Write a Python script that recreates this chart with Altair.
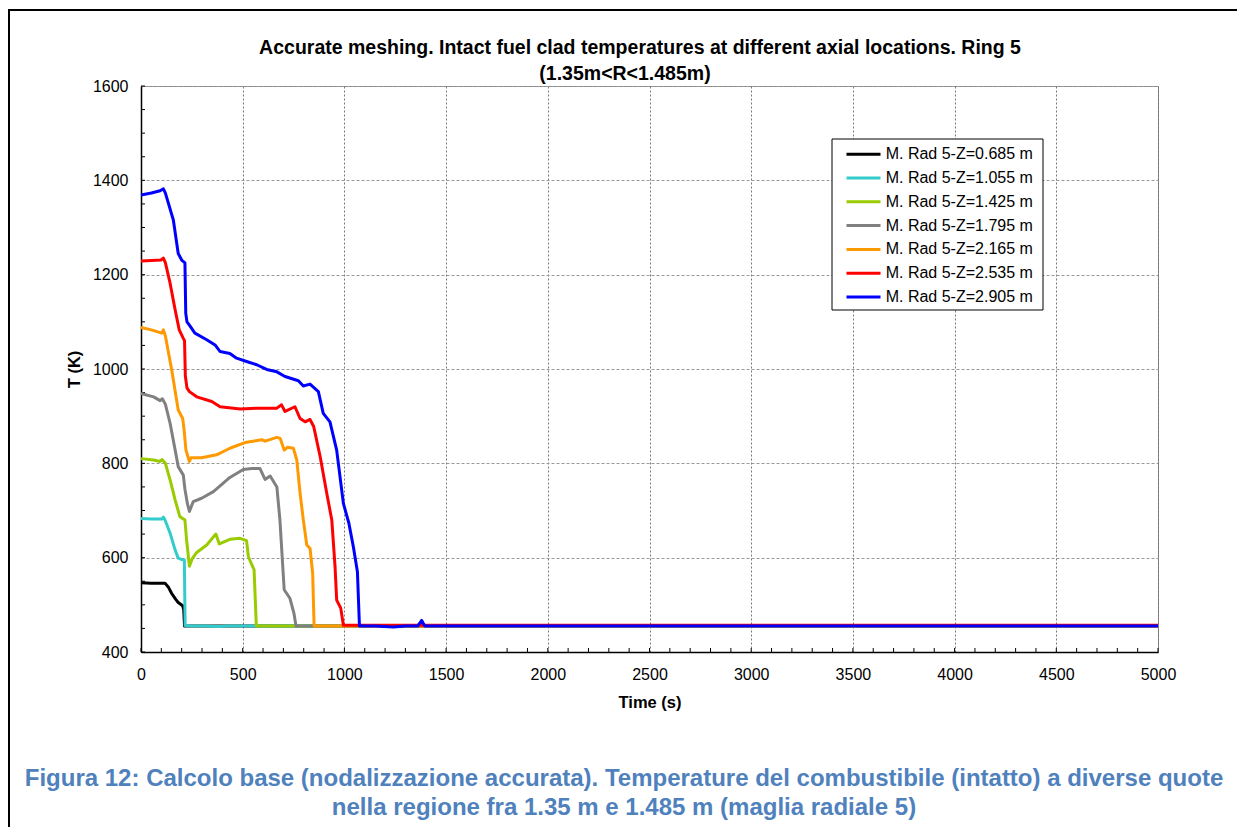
import altair as alt
import pandas as pd

FONT = "Liberation Sans"

series_names = [
    "M. Rad 5-Z=0.685 m",
    "M. Rad 5-Z=1.055 m",
    "M. Rad 5-Z=1.425 m",
    "M. Rad 5-Z=1.795 m",
    "M. Rad 5-Z=2.165 m",
    "M. Rad 5-Z=2.535 m",
    "M. Rad 5-Z=2.905 m",
]
series_colors = ["#000000", "#33CCCC", "#99CC00", "#808080", "#FF9900", "#FF0000", "#0000FF"]

t_z0685 = [0, 50, 118, 134, 151, 170, 183, 205, 210, 214, 237, 400, 1000, 2000, 3000, 4000, 5000]
T_z0685 = [547, 546, 546, 538, 524, 512, 505, 498, 490, 455, 455, 455, 455, 455, 455, 455, 455]

t_z1055 = [0, 50, 103, 110, 118, 143, 168, 183, 201, 213, 217, 247, 310, 390, 420, 1000, 5000]
T_z1055 = [683, 682, 682, 686, 680, 652, 616, 599, 596, 595, 456, 455, 455, 454, 455, 455, 455]

t_z1425 = [0, 62, 93, 103, 120, 143, 168, 191, 216, 224, 238, 252, 274, 323, 368, 385, 437, 487, 519,
           528, 556, 567, 617, 1000, 5000]
T_z1425 = [810, 807, 804, 808, 800, 765, 722, 687, 680, 638, 582, 598, 611, 627, 650, 629, 639, 641, 636,
           602, 574, 455, 455, 455, 455]

t_z1795 = [0, 62, 94, 105, 120, 143, 168, 183, 208, 216, 228, 238, 257, 298, 356, 437, 503, 545, 585,
           610, 635, 668, 683, 695, 704, 732, 752, 762, 823, 5000]
T_z1795 = [948, 941, 933, 937, 925, 885, 828, 793, 775, 745, 715, 698, 719, 726, 740, 770, 787, 789, 789,
           766, 773, 750, 680, 595, 532, 514, 482, 455, 455, 455]

t_z2165 = [0, 51, 102, 110, 120, 151, 183, 205, 212, 221, 238, 247, 298, 372, 437, 511, 594, 610, 668,
           684, 704, 720, 749, 766, 782, 798, 815, 831, 844, 851, 926, 5000]
T_z2165 = [1088, 1083, 1076, 1083, 1070, 998, 913, 895, 870, 828, 804, 812, 812, 818, 832, 844, 850, 847, 855,
           853, 828, 834, 832, 807, 737, 680, 627, 620, 567, 455, 455, 455]

t_z2535 = [0, 51, 98, 110, 120, 143, 168, 188, 208, 214, 218, 226, 238, 274, 348, 389, 487, 569, 668,
           691, 708, 757, 782, 807, 831, 849, 881, 913, 938, 954, 962, 982, 995, 1030, 5000]
T_z2535 = [1229, 1230, 1231, 1235, 1225, 1182, 1125, 1083, 1065, 1060, 985, 960, 952, 941, 931, 920, 915, 917, 917,
           924, 910, 920, 895, 888, 893, 878, 814, 737, 680, 581, 510, 493, 456.5, 456.5, 456.5]

t_z2905 = [0, 51, 94, 110, 120, 159, 183, 200, 216, 220, 226, 238, 265, 323, 364, 389, 437, 470, 519,
           569, 618, 668, 708, 774, 798, 831, 872, 896, 929, 962, 995, 1022, 1044, 1064, 1074, 1150,
           1241, 1300, 1360, 1380, 1395, 2000, 5000]
T_z2905 = [1369, 1373, 1378, 1382, 1373, 1316, 1245, 1231, 1225, 1118, 1100, 1093, 1076, 1062, 1051, 1037, 1033,
           1023, 1016, 1009, 999, 994, 984, 975, 964, 968, 952, 906, 888, 828, 715, 673, 623, 570, 455, 455,
           453, 455, 455, 467, 455, 455, 455]

all_t = [t_z0685, t_z1055, t_z1425, t_z1795, t_z2165, t_z2535, t_z2905]
all_T = [T_z0685, T_z1055, T_z1425, T_z1795, T_z2165, T_z2535, T_z2905]

x_major = list(range(0, 5001, 500))
y_major = list(range(400, 1601, 200))
x_minor = list(range(0, 5001, 100))
y_minor = list(range(400, 1601, 50))

title_lines = [
    "Accurate meshing. Intact fuel clad temperatures at different axial locations. Ring 5",
    "(1.35m<R<1.485m)",
]
caption_lines = [
    "Figura 12: Calcolo base (nodalizzazione accurata). Temperature del combustibile (intatto) a diverse quote",
    "nella regione fra 1.35 m e 1.485 m (maglia radiale 5)",
]

rows = []
for name, ts, Ts in zip(series_names, all_t, all_T):
    for i, (a, b) in enumerate(zip(ts, Ts)):
        rows.append({"series": name, "t": a, "T": b, "i": i})
df = pd.DataFrame(rows)

W, H = 1017, 566

xscale = alt.Scale(domain=[0, 5000], nice=False, zero=False)
yscale = alt.Scale(domain=[400, 1600], nice=False, zero=False)

x_axis = alt.Axis(
    values=x_major, format="d", title="Time (s)", ticks=False, labelPadding=14, titlePadding=12,
    labelFont=FONT, labelFontSize=16, labelColor="black", labelFlush=False,
    titleFont=FONT, titleFontSize=16.5, titleFontWeight="bold", titleColor="black",
    domainColor="black", domainWidth=1.5,
    grid=True, gridColor="#777777", gridDash=[2, 2], gridWidth=1,
)
y_axis = alt.Axis(
    values=y_major, format="d", title="T (K)", ticks=False, labelPadding=13, titlePadding=10,
    labelFont=FONT, labelFontSize=16, labelColor="black", labelFlush=False,
    titleFont=FONT, titleFontSize=16.5, titleFontWeight="bold", titleColor="black",
    domainColor="black", domainWidth=1.5,
    grid=True, gridColor="#999999", gridDash=[3, 2], gridWidth=1,
)

one = pd.DataFrame({"a": [0]})

legend_box = alt.Chart(one).mark_rect(fill="white", stroke="black", strokeWidth=1).encode(
    x=alt.value(691), x2=alt.value(902), y=alt.value(53), y2=alt.value(224)
)

xticks = alt.Chart(pd.DataFrame({"t": x_minor})).mark_rule(color="black", strokeWidth=1).encode(
    x=alt.X("t:Q", scale=xscale, axis=x_axis), y=alt.value(H), y2=alt.value(H - 4)
)
yticks = alt.Chart(pd.DataFrame({"T": y_minor})).mark_rule(color="black", strokeWidth=1).encode(
    y=alt.Y("T:Q", scale=yscale, axis=y_axis), x=alt.value(0), x2=alt.value(4)
)

lines = alt.Chart(df).mark_line(strokeWidth=3, strokeJoin="round").encode(
    x=alt.X("t:Q", scale=xscale, axis=x_axis),
    y=alt.Y("T:Q", scale=yscale, axis=y_axis),
    color=alt.Color(
        "series:N",
        scale=alt.Scale(domain=series_names, range=series_colors),
        title=None,
        legend=alt.Legend(
            orient="none", legendX=694, legendY=56.7, padding=0,
            symbolType="M0,0H3.4", symbolSize=400, symbolStrokeWidth=3,
            labelFont=FONT, labelFontSize=16, labelColor="black", labelOffset=27.7,
            rowPadding=3.8, labelLimit=300,
        ),
    ),
    order="i:Q",
)

frame_left = alt.Chart(one).mark_rule(color="black", strokeWidth=2).encode(
    x=alt.value(-132), y=alt.value(-76), y2=alt.value(760)
)
frame_top = alt.Chart(one).mark_rule(color="black", strokeWidth=2).encode(
    x=alt.value(-133), x2=alt.value(1104), y=alt.value(-76)
)

title_1 = alt.Chart(pd.DataFrame({"txt": [title_lines[0]]})).mark_text(
    font=FONT, fontSize=19.5, fontWeight="bold", color="black", align="center", baseline="alphabetic",
).encode(x=alt.value(499), y=alt.value(-32), text="txt:N")
title_2 = alt.Chart(pd.DataFrame({"txt": [title_lines[1]]})).mark_text(
    font=FONT, fontSize=19.5, fontWeight="bold", color="black", align="center", baseline="alphabetic",
).encode(x=alt.value(484), y=alt.value(-6), text="txt:N")

caption = alt.Chart(pd.DataFrame({"txt": ["\n".join(caption_lines)]})).mark_text(
    font=FONT, fontSize=24, fontWeight="bold", color="#4F81BD", align="center",
    baseline="alphabetic", lineBreak="\n", lineHeight=29,
).encode(x=alt.value(483), y=alt.value(700), text="txt:N")

chart = alt.layer(
    legend_box, xticks, yticks, lines, frame_left, frame_top, title_1, title_2, caption
).properties(
    width=W, height=H,
    autosize=alt.AutoSizeParams(type="none"),
    padding={"left": 133, "top": 78, "right": 79, "bottom": 175},
).configure_view(stroke="#888888", strokeWidth=1)

chart.save("out.html", embed_options={"renderer": "svg", "actions": False})
